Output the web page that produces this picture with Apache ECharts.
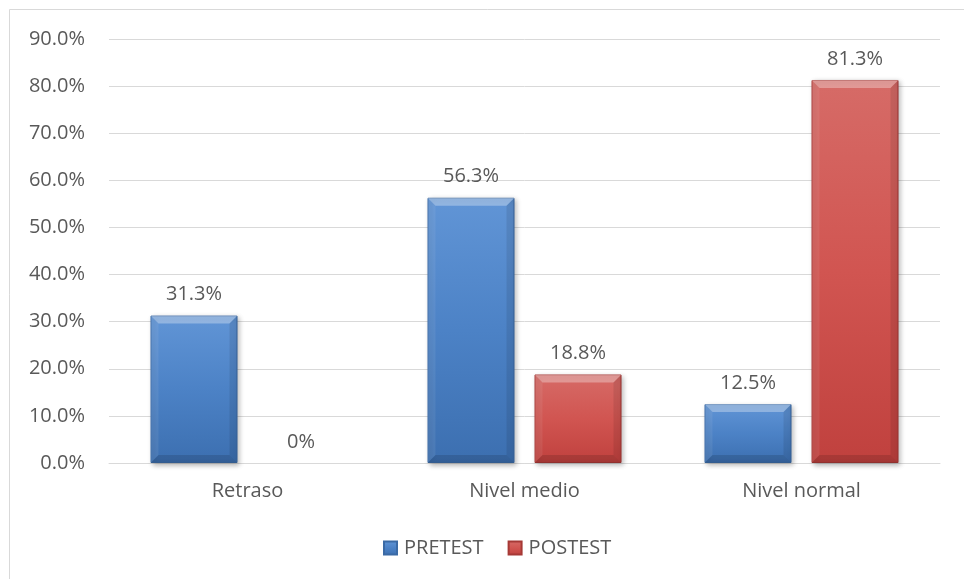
<!DOCTYPE html>
<html>
<head>
<meta charset="utf-8">
<script src="https://cdn.jsdelivr.net/npm/echarts@6/dist/echarts.min.js"></script>
<style>
  html, body { margin: 0; padding: 0; background: #ffffff; }
  #chart { width: 964px; height: 579px; }
</style>
</head>
<body>
<div id="chart"></div>
<script>
// Categories and percentages per group
const categories = ['Retraso', 'Nivel medio', 'Nivel normal'];
const pretest = [31.3, 56.3, 12.5];
const postest = [0, 18.8, 81.3];
const yTicks = { min: 0, max: 90, interval: 10 };

const FONT = '"Open Sans", "Noto Sans", sans-serif';
const TEXT = '#595959';
const FS = 20;
const BAR_W = 87;
const BAR_GAP_PX = 20;
const BEVEL = 8;

function pct(v) {
  return v === 0 ? '0%' : v.toFixed(1) + '%';
}

function grad(top, mid, bottom) {
  return new echarts.graphic.LinearGradient(0, 0, 0, 1, [
    { offset: 0, color: top },
    { offset: 0.5, color: mid },
    { offset: 1, color: bottom }
  ]);
}

// zero-height bars get no visible body, only their label
function barData(values) {
  return values.map(v => v === 0
    ? { value: v, itemStyle: { color: 'transparent', borderWidth: 0, shadowBlur: 0, shadowColor: 'transparent' } }
    : v);
}

// bevel overlay: light top edge, dark right/bottom edges on each bar
function bevelSeries(name, values, sideSign) {
  return {
    type: 'custom',
    name: name + '-bevel',
    silent: true,
    z: 3,
    data: values.map((v, i) => [i, v]),
    renderItem: function (params, api) {
      const v = api.value(1);
      if (!v) return null;
      const base = api.coord([api.value(0), 0]);
      const topPt = api.coord([api.value(0), v]);
      const cx = base[0] + sideSign * (BAR_W + BAR_GAP_PX) / 2;
      const x0 = cx - BAR_W / 2, x1 = cx + BAR_W / 2;
      const y0 = topPt[1], y1 = base[1];
      const b = Math.min(BEVEL, (y1 - y0) / 2);
      return {
        type: 'group',
        children: [
          { type: 'polygon', shape: { points: [[x0, y0], [x1, y0], [x1 - b, y0 + b], [x0 + b, y0 + b]] },
            style: { fill: 'rgba(255,255,255,0.32)' } },
          { type: 'polygon', shape: { points: [[x0, y0], [x0 + b, y0 + b], [x0 + b, y1 - b], [x0, y1]] },
            style: { fill: 'rgba(255,255,255,0.08)' } },
          { type: 'polygon', shape: { points: [[x1, y0], [x1, y1], [x1 - b, y1 - b], [x1 - b, y0 + b]] },
            style: { fill: 'rgba(0,0,0,0.09)' } },
          { type: 'polygon', shape: { points: [[x0, y1], [x0 + b, y1 - b], [x1 - b, y1 - b], [x1, y1]] },
            style: { fill: 'rgba(0,0,0,0.13)' } }
        ]
      };
    }
  };
}

const chart = echarts.init(document.getElementById('chart'), null, { renderer: 'canvas' });

const labelStyle = {
  show: true, position: 'top', distance: 11,
  fontFamily: FONT, fontSize: FS, color: TEXT,
  formatter: p => pct(p.value)
};

chart.setOption({
  animation: false,
  backgroundColor: '#ffffff',
  textStyle: { fontFamily: FONT, color: TEXT },
  graphic: [{
    type: 'rect',
    shape: { x: 9.5, y: 9.5, width: 1000, height: 1000 },
    style: { fill: 'none', stroke: '#d9d9d9', lineWidth: 1 },
    silent: true
  }],
  grid: { left: 109, right: 24, top: 39, bottom: 116, containLabel: false },
  legend: {
    top: 533,
    left: 378,
    itemWidth: 13,
    itemHeight: 13,
    itemGap: 24,
    icon: 'rect',
    textStyle: { fontFamily: FONT, fontSize: FS, color: TEXT, padding: [0, 0, 0, 2] },
    data: ['PRETEST', 'POSTEST']
  },
  xAxis: {
    type: 'category',
    data: categories,
    axisLine: { show: true, lineStyle: { color: '#d9d9d9', width: 1 } },
    axisTick: { show: false },
    axisLabel: { fontFamily: FONT, fontSize: FS, color: TEXT, margin: 18 }
  },
  yAxis: {
    type: 'value',
    min: yTicks.min,
    max: yTicks.max,
    interval: yTicks.interval,
    axisLine: { show: false },
    axisTick: { show: false },
    splitLine: { lineStyle: { color: '#d9d9d9', width: 1 } },
    axisLabel: {
      fontFamily: FONT, fontSize: FS, color: TEXT, margin: 24,
      formatter: v => v.toFixed(1) + '%'
    }
  },
  series: [
    {
      name: 'PRETEST',
      type: 'bar',
      data: barData(pretest),
      barWidth: BAR_W,
      barGap: (BAR_GAP_PX / BAR_W * 100).toFixed(1) + '%',
      itemStyle: {
        color: grad('#6195d6', '#4c82c6', '#3c6fb0'),
        borderColor: '#3b6aa5',
        borderWidth: 1,
        shadowColor: 'rgba(0,0,0,0.28)',
        shadowBlur: 5,
        shadowOffsetX: 2,
        shadowOffsetY: 2
      },
      label: labelStyle
    },
    {
      name: 'POSTEST',
      type: 'bar',
      data: barData(postest),
      barWidth: BAR_W,
      itemStyle: {
        color: grad('#d66b67', '#d15551', '#c0413e'),
        borderColor: '#a63936',
        borderWidth: 1,
        shadowColor: 'rgba(0,0,0,0.28)',
        shadowBlur: 5,
        shadowOffsetX: 2,
        shadowOffsetY: 2
      },
      label: labelStyle
    },
    bevelSeries('PRETEST', pretest, -1),
    bevelSeries('POSTEST', postest, 1)
  ]
});
</script>
</body>
</html>
